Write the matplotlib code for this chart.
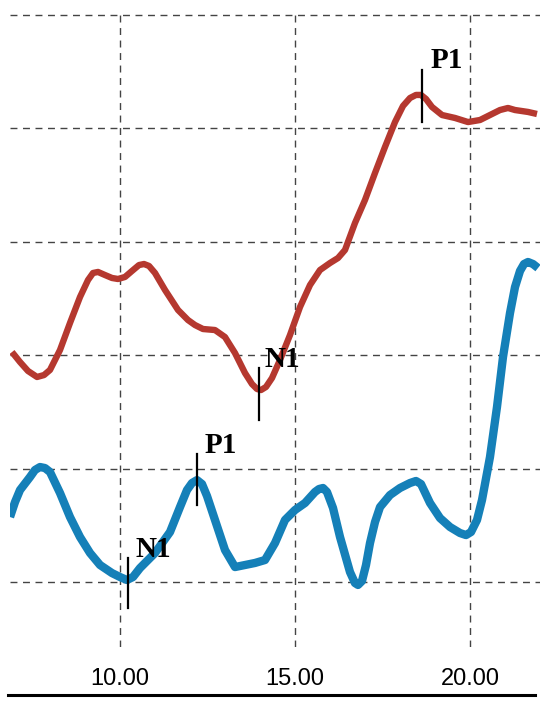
import matplotlib
matplotlib.use("Agg")
import matplotlib.pyplot as plt
from matplotlib.lines import Line2D

# Red trace (upper)
red_x = [6.914, 7.143, 7.371, 7.629, 7.829, 8.000, 8.286, 8.571, 8.857, 9.086,
         9.229, 9.371, 9.571, 9.771, 9.943, 10.143, 10.343, 10.543, 10.686, 10.829,
         11.000, 11.286, 11.657, 11.943, 12.143, 12.371, 12.714, 13.000, 13.286, 13.571,
         13.771, 13.914, 14.029, 14.171, 14.343, 14.571, 14.857, 15.143, 15.429, 15.714,
         16.000, 16.229, 16.429, 16.714, 17.000, 17.286, 17.571, 17.857, 18.086, 18.286,
         18.457, 18.600, 18.743, 18.914, 19.200, 19.571, 19.943, 20.286, 20.571, 20.857,
         21.086, 21.286, 21.657, 21.914]
red_y = [2.028, 1.940, 1.861, 1.808, 1.825, 1.870, 2.046, 2.284, 2.513, 2.663,
         2.725, 2.734, 2.707, 2.681, 2.672, 2.690, 2.743, 2.795, 2.804, 2.787,
         2.725, 2.575, 2.399, 2.310, 2.266, 2.231, 2.222, 2.160, 2.019, 1.843,
         1.746, 1.702, 1.693, 1.720, 1.799, 1.958, 2.178, 2.425, 2.619, 2.751,
         2.813, 2.857, 2.928, 3.166, 3.369, 3.607, 3.836, 4.056, 4.198, 4.268,
         4.295, 4.295, 4.259, 4.189, 4.118, 4.092, 4.056, 4.074, 4.118, 4.162,
         4.180, 4.162, 4.145, 4.127]

# Blue trace (lower)
blue_x = [6.857, 7.000, 7.143, 7.429, 7.571, 7.714, 7.857, 8.000, 8.286, 8.571,
          8.857, 9.143, 9.429, 9.771, 10.000, 10.200, 10.371, 10.571, 11.000, 11.429,
          11.714, 11.914, 12.057, 12.200, 12.343, 12.486, 12.714, 13.000, 13.286, 13.571,
          13.857, 14.143, 14.429, 14.714, 15.000, 15.286, 15.571, 15.686, 15.800, 15.914,
          16.086, 16.286, 16.571, 16.714, 16.800, 16.914, 17.029, 17.143, 17.286, 17.429,
          17.714, 18.000, 18.286, 18.457, 18.600, 18.857, 19.143, 19.429, 19.714, 19.886,
          20.029, 20.200, 20.343, 20.571, 20.771, 20.943, 21.143, 21.286, 21.429, 21.543,
          21.657, 21.800, 21.943]
blue_y = [0.573, 0.705, 0.811, 0.926, 0.988, 1.014, 1.005, 0.970, 0.785, 0.573,
          0.397, 0.256, 0.150, 0.079, 0.044, 0.018, 0.044, 0.123, 0.256, 0.441,
          0.661, 0.811, 0.873, 0.899, 0.864, 0.758, 0.547, 0.282, 0.132, 0.150,
          0.168, 0.194, 0.344, 0.547, 0.635, 0.697, 0.794, 0.820, 0.829, 0.794,
          0.653, 0.397, 0.088, -0.009, -0.026, 0.009, 0.150, 0.344, 0.529, 0.661,
          0.767, 0.829, 0.873, 0.891, 0.864, 0.697, 0.564, 0.485, 0.432, 0.414,
          0.441, 0.547, 0.723, 1.102, 1.543, 1.984, 2.372, 2.601, 2.743, 2.804,
          2.822, 2.804, 2.769]

# Peak markers: label, x, line bottom, line top, label x, label baseline
marker_labels = ["P1", "N1", "P1", "N1"]
marker_x = [18.63, 13.97, 12.20, 10.23]
marker_y0 = [4.056, 1.429, 0.679, -0.229]
marker_y1 = [4.515, 1.887, 1.129, 0.212]
label_x = [18.86, 14.14, 12.43, 10.43]
label_y = [4.53, 1.90, 1.14, 0.225]

xticks = [10, 15, 20]
xtick_labels = ["10.00", "15.00", "20.00"]
yticks = [0, 1, 2, 3, 4, 5]

fig = plt.figure(figsize=(5.5, 7.03), dpi=100)
ax = fig.add_axes([10/550, (703-647)/703, 530/550, 637/703])

ax.plot(red_x, red_y, color="#b5382f", lw=4.6, solid_capstyle="butt",
        solid_joinstyle="round", zorder=3)
ax.plot(blue_x, blue_y, color="#1580b8", lw=6.0, solid_capstyle="butt",
        solid_joinstyle="round", zorder=3)

for lab, mx, y0, y1, lx, ly in zip(marker_labels, marker_x, marker_y0, marker_y1, label_x, label_y):
    ax.plot([mx, mx], [y0, y1], color="black", lw=1.6, zorder=4)
    ax.text(lx, ly, lab, fontsize=21, family="Liberation Serif", fontweight="bold",
            color="black", ha="left", va="baseline", zorder=5)

ax.set_xlim(6.857, 22.0)
ax.set_ylim(-0.573, 5.044)
ax.set_xticks(xticks)
ax.set_xticklabels(xtick_labels, fontsize=17, family="Liberation Sans")
ax.set_yticks(yticks)
ax.tick_params(axis="both", length=0, pad=15)
ax.tick_params(axis="y", left=False, labelleft=False)
for s in ax.spines.values():
    s.set_visible(False)

ax.grid(True, color="#444444", lw=1.0, linestyle=(0, (5, 4)))
ax.set_axisbelow(True)

fig.add_artist(Line2D([8/550, 535/550], [(703-695)/703]*2, color="black", lw=2.2))

fig.savefig("out.png", dpi=100)
